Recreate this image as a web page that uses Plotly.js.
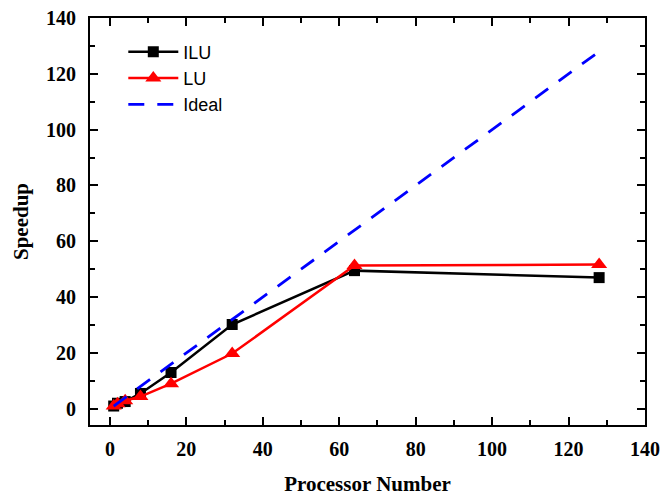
<!DOCTYPE html>
<html>
<head>
<meta charset="utf-8">
<script src="https://cdn.plot.ly/plotly-3.0.1.min.js"></script>
<style>html,body{margin:0;padding:0;background:#fff;}#chart{width:665px;height:496px;}</style>
</head>
<body>
<div id="chart"></div>
<script>
const procs = [1, 2, 4, 8, 16, 32, 64, 128];
const iluSpeedup = [1, 2, 2.6, 5.5, 13, 30.2, 49.5, 47];
const luSpeedup = [1, 1.8, 2.9, 4.4, 9, 19.8, 51.3, 51.7];
const idealSpeedup = [1, 2, 4, 8, 16, 32, 64, 128];
const seriesNames = ['ILU', 'LU', 'Ideal'];
const tickValues = [0, 20, 40, 60, 80, 100, 120, 140];
const tickLabels = ['0', '20', '40', '60', '80', '100', '120', '140'];

const traces = [
  {x: procs, y: iluSpeedup, name: seriesNames[0], type: 'scatter', mode: 'lines+markers',
   line: {color: '#000000', width: 2.5}, marker: {symbol: 'square', size: 11, color: '#000000'}},
  {x: procs, y: luSpeedup, name: seriesNames[1], type: 'scatter', mode: 'lines+markers',
   line: {color: '#ff0000', width: 2.5}, marker: {symbol: 'triangle-up', size: 14, color: '#ff0000'}},
  {x: procs, y: idealSpeedup, name: seriesNames[2], type: 'scatter', mode: 'lines',
   line: {color: '#0000ff', width: 2.8, dash: '16px,13px'}}
];

const serif = 'Liberation Serif, Times New Roman, serif';
const boldLabels = tickLabels.map(t => '<b>' + t + '</b>');
const layout = {
  width: 665, height: 496,
  margin: {l: 90, r: 20, t: 18, b: 71},
  paper_bgcolor: '#fff', plot_bgcolor: '#fff',
  showlegend: true,
  legend: {x: 0.06, y: 0.962, xanchor: 'left', yanchor: 'top', bgcolor: 'rgba(0,0,0,0)',
           font: {family: 'Liberation Sans, Arial, sans-serif', size: 18, color: '#000'},
           tracegroupgap: 0, itemwidth: 50},
  xaxis: {
    range: [-5.2, 140], tickmode: 'array', tickvals: tickValues, ticktext: boldLabels,
    showline: true, linecolor: '#000', linewidth: 2, mirror: 'ticks',
    ticks: 'inside', ticklen: 8, tickwidth: 2, tickcolor: '#000',
    minor: {dtick: 10, tick0: 0, ticks: 'inside', ticklen: 5, tickwidth: 2, tickcolor: '#000'},
    showgrid: false, zeroline: false,
    tickfont: {family: serif, size: 20, color: '#000'}, ticklabelstandoff: 5,
    title: {text: '<b>Processor Number</b>', font: {family: serif, size: 21, color: '#000'}, standoff: 18}
  },
  yaxis: {
    range: [-5.8, 140], tickmode: 'array', tickvals: tickValues, ticktext: boldLabels,
    showline: true, linecolor: '#000', linewidth: 2, mirror: 'ticks',
    ticks: 'inside', ticklen: 8, tickwidth: 2, tickcolor: '#000',
    minor: {dtick: 10, tick0: 0, ticks: 'inside', ticklen: 5, tickwidth: 2, tickcolor: '#000'},
    showgrid: false, zeroline: false,
    tickfont: {family: serif, size: 20, color: '#000'}, ticklabelstandoff: 8,
    title: {text: '<b>Speedup</b>', font: {family: serif, size: 21, color: '#000'}, standoff: 12}
  }
};
Plotly.newPlot('chart', traces, layout, {displayModeBar: false, staticPlot: true});
</script>
</body>
</html>
